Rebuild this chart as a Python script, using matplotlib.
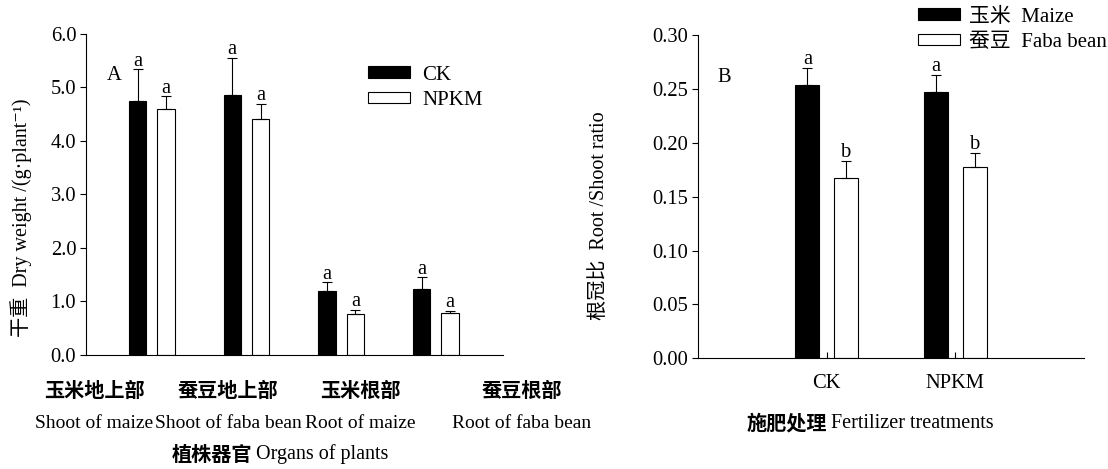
import matplotlib
matplotlib.use("Agg")
import matplotlib.pyplot as plt
import numpy as np

plt.rcParams['font.family'] = ['Liberation Serif', 'Noto Sans CJK SC', 'DejaVu Serif']
plt.rcParams['axes.linewidth'] = 0.8

# panel A: dry weight by organ
organs_cn = ['玉米地上部', '蚕豆地上部', '玉米根部', '蚕豆根部']
organs_en = ['Shoot of maize', 'Shoot of faba bean', 'Root of maize', 'Root of faba bean']
ck_dw = [4.74, 4.85, 1.20, 1.23]
ck_dw_err = [0.59, 0.70, 0.16, 0.22]
npkm_dw = [4.60, 4.40, 0.77, 0.78]
npkm_dw_err = [0.23, 0.29, 0.07, 0.05]
letters_ck_a = ['a', 'a', 'a', 'a']
letters_npkm_a = ['a', 'a', 'a', 'a']

# panel B: root/shoot ratio
treatments = ['CK', 'NPKM']
maize_rs = [0.2533, 0.2474]
maize_rs_err = [0.0164, 0.0155]
faba_rs = [0.1673, 0.1772]
faba_rs_err = [0.0158, 0.0136]
letters_maize_b = ['a', 'a']
letters_faba_b = ['b', 'b']

W, H = 1108, 469
fig = plt.figure(figsize=(W / 100, H / 100), dpi=100)

def px(x, y):
    return x / W, 1 - y / H

FS = 14.8
bw = 0.185
off = 0.15
CJK = ['Noto Sans CJK SC']

def style(ax):
    ax.spines['top'].set_visible(False)
    ax.spines['right'].set_visible(False)
    ax.tick_params(axis='y', direction='out', length=4, width=0.8, labelsize=FS, pad=3)

def bars(ax, x, vals, errs, color, letters):
    b = ax.bar(x, vals, bw, color=color, edgecolor='black', linewidth=0.8, zorder=2)
    ax.errorbar(x, vals, yerr=[np.zeros(len(vals)), errs], fmt='none', ecolor='black',
                elinewidth=0.8, capsize=3.7, capthick=0.8, zorder=3)
    for xi, v, e, t in zip(x, vals, errs, letters):
        ax.annotate(t, (xi, v + e), xytext=(0, -1), textcoords='offset points',
                    ha='center', va='bottom', fontsize=FS)
    return b

# ---- panel A
axA = fig.add_axes([86 / W, 1 - 355 / H, 417 / W, 321.5 / H])
style(axA)
xa = np.arange(len(organs_cn))
b1 = bars(axA, xa - off, ck_dw, ck_dw_err, 'black', letters_ck_a)
b2 = bars(axA, xa + off, npkm_dw, npkm_dw_err, 'white', letters_npkm_a)
axA.set_xlim(-0.695, 3.71)
axA.set_ylim(0, 6.0)
axA.set_yticks(np.arange(0, 6.01, 1.0))
axA.set_yticklabels(['%.1f' % v for v in np.arange(0, 6.01, 1.0)])
axA.set_xticks([])
axA.text(0.05, 0.87, 'A', transform=axA.transAxes, fontsize=FS, ha='left', va='center')
axA.legend([b1, b2], ['CK', 'NPKM'], loc='upper left', bbox_to_anchor=(0.677, 0.90),
           frameon=False, fontsize=15, handlelength=2.0, handleheight=0.5, labelspacing=0.3,
           handletextpad=0.6, borderpad=0, borderaxespad=0)

cn_x = [94, 228, 360, 522]
for cx, c, e in zip(cn_x, organs_cn, organs_en):
    fig.text(*px(cx, 390), c, ha='center', va='center', fontsize=14.5,
             fontweight='bold', family=CJK)
    fig.text(*px(cx, 423), e, ha='center', va='center', fontsize=14)
fig.text(*px(252, 454), '植株器官', ha='right', va='center', fontsize=14.5,
         fontweight='bold', family=CJK)
fig.text(*px(256, 454), 'Organs of plants', ha='left', va='center', fontsize=14.5)
fig.text(*px(21, 218), '干重  Dry weight /(g·plant⁻¹)', rotation=90,
         ha='center', va='center', fontsize=14.5)

# ---- panel B
axB = fig.add_axes([698 / W, 1 - 358.3 / H, 386 / W, 323.3 / H])
style(axB)
xb = np.arange(len(treatments))
b3 = bars(axB, xb - off, maize_rs, maize_rs_err, 'black', letters_maize_b)
b4 = bars(axB, xb + off, faba_rs, faba_rs_err, 'white', letters_faba_b)
axB.set_xlim(-1.0, 2.0)
axB.set_ylim(0, 0.30)
axB.set_yticks(np.arange(0, 0.301, 0.05))
axB.set_yticklabels(['%.2f' % v for v in np.arange(0, 0.301, 0.05)])
axB.set_xticks(xb)
axB.set_xticklabels(treatments, fontsize=FS)
axB.tick_params(axis='x', direction='in', length=4, width=0.8, pad=11)
axB.text(0.05, 0.87, 'B', transform=axB.transAxes, fontsize=FS, ha='left', va='center')
axB.legend([b3, b4], ['玉米  Maize', '蚕豆  Faba bean'], loc='upper left',
           bbox_to_anchor=(0.57, 1.085), frameon=False, fontsize=15, handlelength=2.0,
           handleheight=0.5, labelspacing=0.3, handletextpad=0.45, borderpad=0,
           borderaxespad=0)
fig.text(*px(827, 423), '施肥处理', ha='right', va='center', fontsize=14.5,
         fontweight='bold', family=CJK)
fig.text(*px(831, 423), 'Fertilizer treatments', ha='left', va='center', fontsize=14.5)
fig.text(*px(599, 216), '根冠比  Root /Shoot ratio', rotation=90,
         ha='center', va='center', fontsize=14.5)

fig.savefig('out.png', dpi=100)
